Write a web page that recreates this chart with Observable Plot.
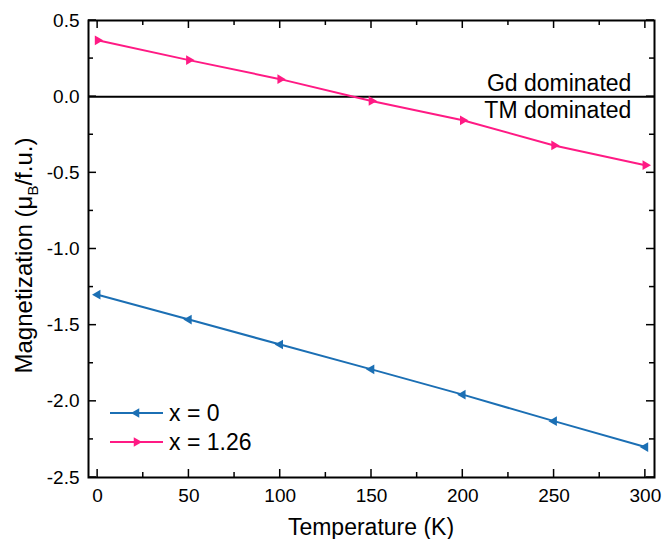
<!DOCTYPE html>
<html><head><meta charset="utf-8">
<script src="https://cdn.jsdelivr.net/npm/d3@7"></script>
<script src="https://cdn.jsdelivr.net/npm/@observablehq/plot@0.6"></script>
<style>body{margin:0;background:#fff} #chart svg{display:block}</style>
</head><body><div id="chart"></div>
<script>
const temperatures = [0, 50, 100, 150, 200, 250, 300];
const magX0 = [-1.30, -1.463, -1.627, -1.79, -1.956, -2.13, -2.30];
const magX126 = [0.37, 0.24, 0.115, -0.028, -0.155, -0.32, -0.45];
const seriesNames = ["x = 0", "x = 1.26"];
const seriesColors = ["#1b6fb4", "#ff1a84"];
const xTicks = [0, 50, 100, 150, 200, 250, 300];
const xMinor = [25, 75, 125, 175, 225, 275];
const yTicks = [-2.5, -2, -1.5, -1, -0.5, 0, 0.5];
const yMinor = [-2.25, -1.75, -1.25, -0.75, -0.25, 0.25];
const regionLabels = ["Gd dominated", "TM dominated"];
const xTitle = "Temperature (K)";
const yTitleParts = ["Magnetization (\u03bc", "B", "/f.u.)"];

const rows = [];
temperatures.forEach((t, i) => {
  rows.push({T: t, M: magX0[i], s: seriesNames[0]});
  rows.push({T: t, M: magX126[i], s: seriesNames[1]});
});

const W = 663, H = 539, mL = 88, mR = 9, mT = 20, mB = 62;
const font = "Liberation Sans, Arial, Helvetica, sans-serif";

function titles(index, scales, values, dims) {
  const g = d3.create("svg:g").attr("font-family", font).attr("fill", "black");
  const cx = (dims.marginLeft + dims.width - dims.marginRight) / 2;
  g.append("text").attr("x", cx).attr("y", dims.height - 4).attr("text-anchor", "middle").attr("font-size", 23).text(xTitle);
  const cy = (dims.marginTop + dims.height - dims.marginBottom) / 2 + 7;
  const t = g.append("text").attr("transform", `translate(32,${cy}) rotate(-90)`).attr("text-anchor", "middle").attr("font-size", 24);
  t.append("tspan").text(yTitleParts[0]);
  t.append("tspan").attr("font-size", 15).attr("dy", 6).text(yTitleParts[1]);
  t.append("tspan").attr("dy", -6).text(yTitleParts[2]);
  return g.node();
}

function inwardTicks(index, scales, values, dims) {
  const g = d3.create("svg:g").attr("stroke", "black").attr("stroke-width", 1.5);
  const l = dims.marginLeft, r = dims.width - dims.marginRight;
  const t = dims.marginTop, b = dims.height - dims.marginBottom;
  const addX = (vals, len) => vals.forEach(v => {
    const x = scales.x(v);
    g.append("line").attr("x1", x).attr("x2", x).attr("y1", b).attr("y2", b - len);
    g.append("line").attr("x1", x).attr("x2", x).attr("y1", t).attr("y2", t + len);
  });
  const addY = (vals, len) => vals.forEach(v => {
    const y = scales.y(v);
    g.append("line").attr("y1", y).attr("y2", y).attr("x1", l).attr("x2", l + len);
    g.append("line").attr("y1", y).attr("y2", y).attr("x1", r).attr("x2", r - len);
  });
  addX(xTicks, 8); addX(xMinor, 5); addY(yTicks, 8); addY(yMinor, 5);
  return g.node();
}

function legend(index, scales, values, dims) {
  const g = d3.create("svg:g").attr("font-family", font).attr("font-size", 23).attr("text-anchor", "start");
  const x0 = dims.marginLeft + 22, x1 = dims.marginLeft + 75;
  const yb = dims.height - dims.marginBottom;
  seriesNames.forEach((name, i) => {
    const y = yb - 64 + i * 29;
    const c = scales.color(name);
    g.append("line").attr("x1", x0).attr("x2", x1).attr("y1", y).attr("y2", y).attr("stroke", c).attr("stroke-width", 2);
    const sym = d3.symbol(d3.symbolTriangle, 40)();
    g.append("path").attr("d", sym).attr("fill", c)
      .attr("transform", `translate(${(x0 + x1) / 2},${y}) rotate(${i === 0 ? -90 : 90})`);
    g.append("text").attr("x", x1 + 6).attr("y", y).attr("dy", "0.35em").attr("fill", "black").text(name);
  });
  return g.node();
}

const yFmt = d => d.toFixed(1);

const chart = Plot.plot({
  width: W, height: H,
  marginLeft: mL, marginRight: mR, marginTop: mT, marginBottom: mB,
  style: {fontFamily: font, background: "white", color: "black"},
  x: {domain: [-5, 305]},
  y: {domain: [-2.5, 0.5]},
  color: {domain: seriesNames, range: seriesColors},
  marks: [
    Plot.ruleY([0], {stroke: "black", strokeWidth: 2}),
    Plot.line(rows, {x: "T", y: "M", z: "s", stroke: "s", strokeWidth: 2}),
    Plot.dot(rows, {x: "T", y: "M", fill: "s", symbol: "triangle", r: 3.6,
      rotate: d => d.s === seriesNames[0] ? -90 : 90}),
    Plot.text([regionLabels[0]], {x: 300, y: 0, text: d => d, textAnchor: "end", lineAnchor: "bottom", dx: -14, dy: -6, fontSize: 23, fill: "black"}),
    Plot.text([regionLabels[1]], {x: 300, y: 0, text: d => d, textAnchor: "end", lineAnchor: "top", dx: -14, dy: 5, fontSize: 23, fill: "black"}),
    Plot.axisX({anchor: "bottom", ticks: xTicks, tickSize: 0, tickPadding: 11, fontSize: 19, label: null}),
    Plot.axisY({anchor: "left", ticks: yTicks, tickSize: 0, tickPadding: 9, fontSize: 19, tickFormat: yFmt, label: null}),
    inwardTicks,
    Plot.frame({stroke: "black", strokeWidth: 2}),
    titles,
    legend
  ]
});
document.getElementById("chart").appendChild(chart);
</script>
</body></html>
